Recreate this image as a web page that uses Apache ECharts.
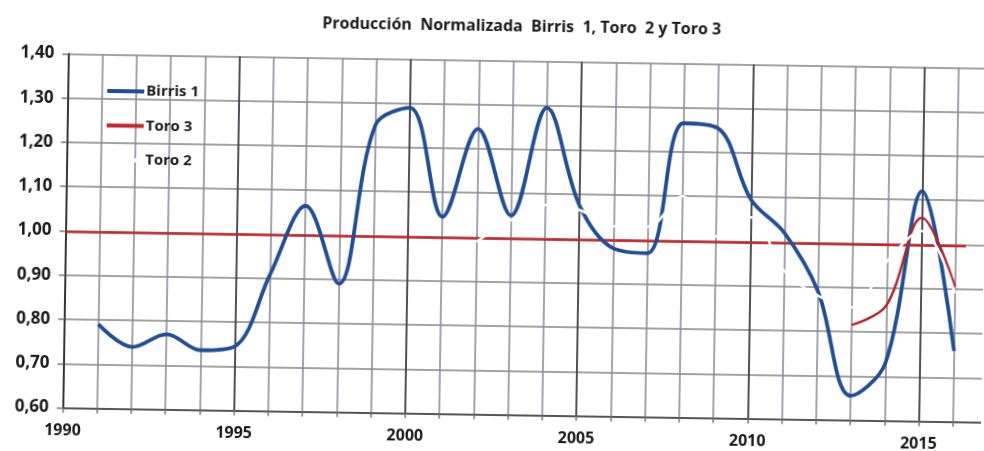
<!DOCTYPE html>
<html>
<head>
<meta charset="utf-8">
<script src="https://cdn.jsdelivr.net/npm/echarts@6/dist/echarts.min.js"></script>
<style>
html, body { margin: 0; padding: 0; background: #fff; overflow: hidden; }
#chart {
  position: absolute; left: 0; top: 0;
  width: 984px; height: 451px;
  transform-origin: 493px 238px;
  transform: rotate(0.9deg);   /* the scan is slightly tilted */
}
</style>
</head>
<body>
<div id="chart"></div>
<script>
// Birris 1, one value a year
const birrisYears = [1991, 1992, 1993, 1994, 1995, 1996, 1997, 1998, 1999, 2000, 2001, 2002, 2003,
                     2004, 2005, 2006, 2007, 2008, 2009, 2010, 2011, 2012, 2013, 2014, 2015, 2016]
const birris1 = [0.79, 0.74, 0.77, 0.735, 0.745, 0.91, 1.065, 0.89, 1.25, 1.29, 1.045, 1.245, 1.05,
                 1.295, 1.075, 0.98, 0.97, 1.265, 1.255, 1.095, 1.02, 0.89, 0.655, 0.73, 1.12, 0.76]

// Toro 2 (drawn in white in the original)
const toro2Years = [2002, 2003, 2004, 2005, 2006, 2007, 2008, 2009, 2010, 2011, 2012, 2013, 2014, 2015, 2016]
const toro2 = [0.99, 1.04, 1.075, 1.065, 1.03, 1.03, 1.10, 1.01, 1.055, 0.935, 0.88, 0.855, 0.96, 1.03, 0.89]

// Toro 3
const toro3Years = [2013, 2014, 2015, 2016]
const toro3 = [0.815, 0.86, 1.06, 0.905]
// red reference line of Toro 3
const toro3LineYears = [1990, 2016.3]
const toro3Line = [0.998, 0.997]

const xTickLabels = [1990, 1995, 2000, 2005, 2010, 2015]
const yTicks = [0.60, 0.70, 0.80, 0.90, 1.00, 1.10, 1.20, 1.30, 1.40]
const xMin = 1990
const xMax = 2017

const pairs = (xs, ys) => xs.map((x, i) => [x, ys[i]])
const font = '"Open Sans", Lato, sans-serif'

let chart = echarts.init(document.getElementById('chart'))
chart.setOption({
  animation: false,
  backgroundColor: '#fff',
  title: {
    text: 'Producción  Normalizada  Birris  1, Toro  2 y Toro 3',
    left: 319,
    top: 18,
    padding: 0,
    textStyle: { fontFamily: font, fontSize: 16, fontWeight: 'bold', color: '#1a1a1a' }
  },
  legend: {
    data: ['Birris 1', 'Toro 3', 'Toro 2'],
    orient: 'vertical',
    left: 105,
    top: 89,
    padding: 0,
    icon: 'rect',
    itemWidth: 37,
    itemHeight: 4,
    itemGap: 18.5,
    textStyle: { fontFamily: font, fontSize: 15, fontWeight: 'bold', color: '#1a1a1a', lineHeight: 16, padding: [0, 0, 0, -3] }
  },
  grid: { left: 65.5, top: 60.5, right: -6, bottom: 36.5, outerBoundsMode: 'none' },
  xAxis: [
    {
      type: 'value',
      min: xMin,
      max: xMax,
      interval: 1,
      axisLine: { show: true, onZero: false, lineStyle: { color: '#555', width: 2 } },
      axisTick: { show: true, length: 5, lineStyle: { color: '#777', width: 1.5 } },
      axisLabel: {
        margin: 15,
        fontFamily: font, fontSize: 16, fontWeight: 'bold', color: '#1a1a1a',
        formatter: v => xTickLabels.includes(v) ? String(v) : ''
      },
      splitLine: { show: true, lineStyle: { color: '#8e8e9c', width: 1.6 } }
    },
    {
      // darker line every five years
      type: 'value',
      position: 'top',
      min: xMin,
      max: xMax,
      interval: 5,
      axisLine: { show: false },
      axisTick: { show: false },
      axisLabel: { show: false },
      splitLine: { show: true, lineStyle: { color: '#3c3c44', width: 1.6 } }
    }
  ],
  yAxis: {
    type: 'value',
    min: yTicks[0],
    max: yTicks[yTicks.length - 1],
    interval: 0.1,
    axisLine: { show: true, onZero: false, lineStyle: { color: '#333', width: 1.8 } },
    axisTick: { show: true, length: 6, lineStyle: { color: '#808080', width: 1.6 } },
    axisLabel: {
      margin: 14,
      fontFamily: font, fontSize: 17, fontWeight: 'bold', color: '#1a1a1a',
      formatter: v => v.toFixed(2).replace('.', ',')
    },
    splitLine: { show: true, lineStyle: { color: '#858585', width: 1.6 } }
  },
  series: [
    {
      name: 'Toro 3',
      type: 'line',
      data: pairs(toro3LineYears, toro3Line),
      showSymbol: false,
      color: '#c8262c',
      lineStyle: { color: '#c8262c', width: 2.5 }
    },
    {
      name: 'Birris 1',
      type: 'line',
      data: pairs(birrisYears, birris1),
      smooth: 0.35,
      showSymbol: false,
      color: '#1f4f96',
      lineStyle: { color: '#1f4f96', width: 3.8 }
    },
    {
      name: 'Toro 3',
      type: 'line',
      data: pairs(toro3Years, toro3),
      smooth: 0.35,
      showSymbol: false,
      color: '#b5262c',
      lineStyle: { color: '#b5262c', width: 2.5 }
    },
    {
      name: 'Toro 2',
      type: 'line',
      data: pairs(toro2Years, toro2),
      smooth: 0.35,
      showSymbol: false,
      color: '#ffffff',
      lineStyle: { color: '#ffffff', width: 2.5 }
    }
  ]
})
</script>
</body>
</html>
